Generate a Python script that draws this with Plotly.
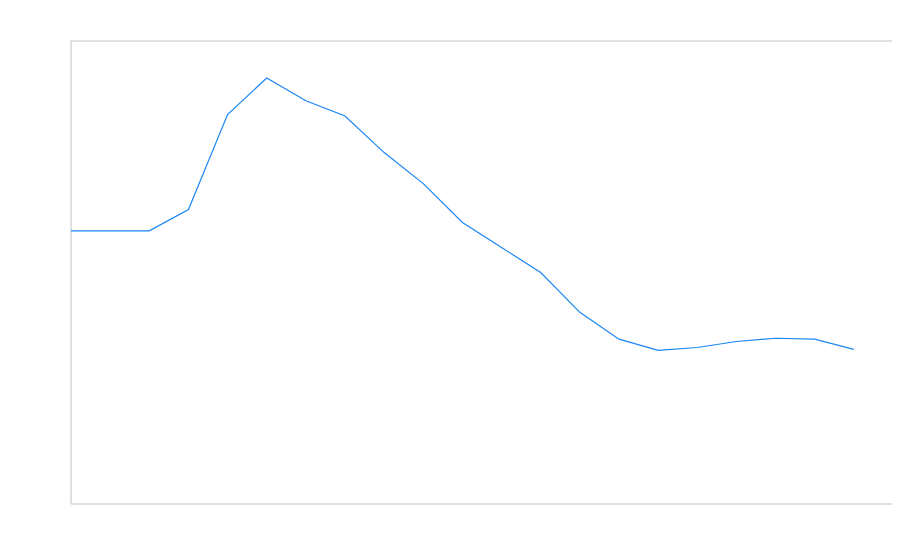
import plotly.graph_objects as go

x_index = list(range(21))
values = [59.0, 59.0, 59.0, 63.6, 84.1, 92.0, 87.1, 83.8, 75.9, 69.2, 60.8,
          55.4, 50.0, 41.4, 35.6, 33.2, 33.8, 35.1, 35.8, 35.6, 33.4]

fig = go.Figure()
fig.add_trace(go.Scatter(x=x_index, y=values, mode="lines",
                         line=dict(color="#1a86f5", width=1.2),
                         hoverinfo="skip", showlegend=False))

axis_common = dict(showgrid=False, zeroline=False, showticklabels=False,
                   ticks="", showline=False, fixedrange=True)
fig.update_layout(
    width=887, height=553,
    margin=dict(l=63, r=2, t=33, b=57),
    paper_bgcolor="white", plot_bgcolor="white",
    xaxis=dict(range=[0, 21], **axis_common),
    yaxis=dict(range=[0, 100], **axis_common),
    shapes=[dict(type="rect", xref="paper", yref="paper", x0=0, x1=1, y0=0, y1=1,
                 line=dict(color="#c0c0c0", width=1), layer="below")],
)
fig.write_html("out.html", config={"displayModeBar": False})
